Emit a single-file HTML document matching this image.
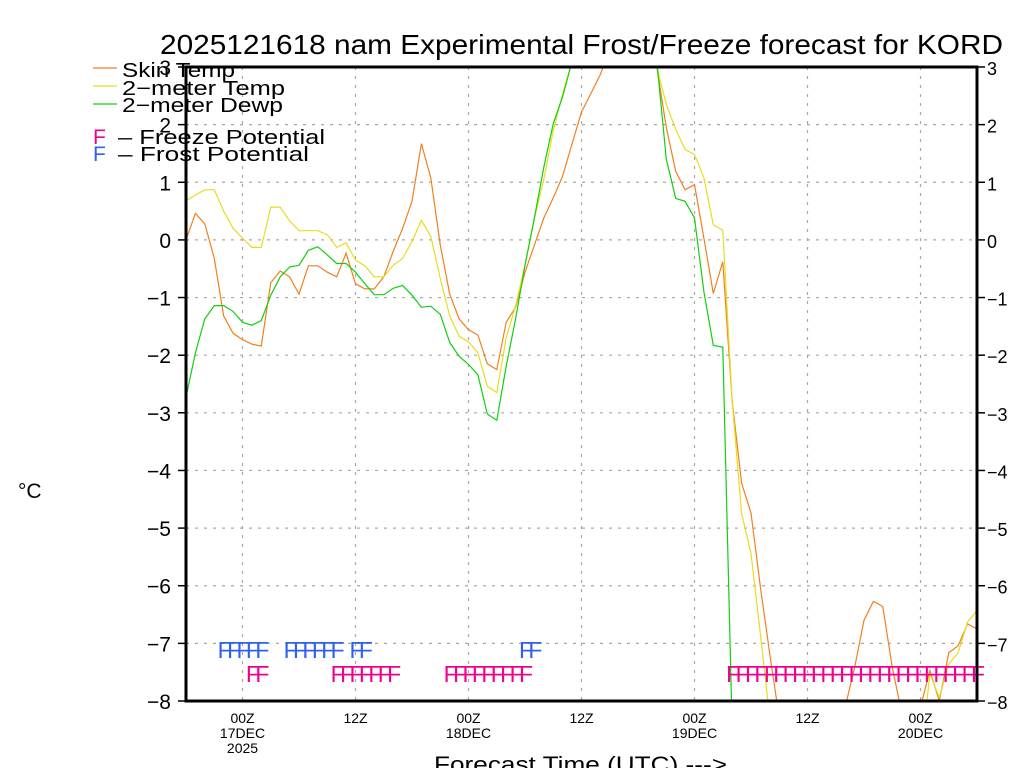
<!DOCTYPE html>
<html><head><meta charset="utf-8"><style>
html,body{margin:0;padding:0;background:#fff;width:1024px;height:768px;overflow:hidden}
svg{display:block;font-family:"Liberation Sans",sans-serif}
</style></head><body>
<svg id="chart" width="1024" height="768" viewBox="0 0 1024 768" xmlns="http://www.w3.org/2000/svg">
<text x="160" y="54" font-size="28" textLength="843" lengthAdjust="spacingAndGlyphs">2025121618 nam Experimental Frost/Freeze forecast for KORD</text>
<g id="grid"></g>
<defs><clipPath id="clip"><rect x="186" y="67" width="791" height="634"/></clipPath></defs>
<g id="series" clip-path="url(#clip)"></g>
<g id="marks"></g>
<rect x="186" y="67" width="791" height="634" fill="none" stroke="#000" stroke-width="3"/>
<g id="axes"></g>
<g>
<line x1="93" y1="68" x2="117" y2="68" stroke="#f08020" stroke-width="1.2"/>
<text x="122" y="77" font-size="20" textLength="113" lengthAdjust="spacingAndGlyphs">Skin Temp</text>
<line x1="93" y1="86" x2="117" y2="86" stroke="#e8dc20" stroke-width="1.2"/>
<text x="122" y="95" font-size="20" textLength="163" lengthAdjust="spacingAndGlyphs">2−meter Temp</text>
<line x1="93" y1="104" x2="117" y2="104" stroke="#10d010" stroke-width="1.2"/>
<text x="122" y="112" font-size="20" textLength="161" lengthAdjust="spacingAndGlyphs">2−meter Dewp</text>
<text x="93" y="144" font-size="21" fill="#f00090">F</text>
<text x="118" y="144" font-size="20" textLength="207" lengthAdjust="spacingAndGlyphs">–  Freeze Potential</text>
<text x="93" y="161" font-size="21" fill="#3060f0">F</text>
<text x="118" y="161" font-size="20" textLength="191" lengthAdjust="spacingAndGlyphs">–  Frost Potential</text>
</g>
<text x="18" y="498" font-size="21">°C</text>
<text x="434" y="772" font-size="22" textLength="293" lengthAdjust="spacingAndGlyphs">Forecast Time (UTC) ---&gt;</text>
</svg>
<script>
const hours = Array.from({length:85},(_,i)=>i);
const skinTemp = [0.0,0.46,0.28,-0.32,-1.32,-1.62,-1.73,-1.81,-1.84,-0.74,-0.54,-0.64,-0.94,-0.45,-0.45,-0.56,-0.64,-0.23,-0.76,-0.85,-0.85,-0.64,-0.2,0.2,0.67,1.67,1.08,-0.09,-0.94,-1.37,-1.56,-1.65,-2.15,-2.25,-1.43,-1.17,-0.56,-0.09,0.38,0.73,1.11,1.67,2.22,2.54,2.87,3.3,3.7,4.0,4.0,3.6,3.0,1.95,1.19,0.87,0.96,0.03,-0.93,-0.38,-2.8,-4.22,-4.74,-6.02,-7.19,-8.3,-9,-9,-9,-9,-9,-9,-8.1,-7.42,-6.6,-6.27,-6.36,-7.42,-8.2,-8.6,-8.1,-7.47,-8.0,-7.16,-7.04,-6.66,-6.75];
const temp2m = [0.68,0.78,0.87,0.87,0.5,0.2,0.03,-0.13,-0.13,0.57,0.57,0.33,0.16,0.16,0.16,0.09,-0.13,-0.05,-0.35,-0.45,-0.64,-0.64,-0.44,-0.32,-0.03,0.34,0.06,-0.67,-1.32,-1.67,-1.77,-1.96,-2.54,-2.65,-1.7,-1.14,-0.44,0.38,1.05,1.9,2.54,3.1,3.4,3.7,3.9,4.0,4.0,4.0,3.9,3.6,3.0,2.35,1.92,1.57,1.48,1.08,0.26,0.17,-2.8,-4.74,-5.44,-6.84,-8.3,-9,-9,-9,-9,-9,-9,-9,-9,-9,-9,-9,-9,-9,-9,-9,-9,-7.53,-7.94,-7.36,-7.16,-6.63,-6.43];
const dewp2m = [-2.73,-1.96,-1.37,-1.14,-1.14,-1.24,-1.43,-1.48,-1.4,-0.96,-0.64,-0.47,-0.44,-0.18,-0.12,-0.26,-0.41,-0.41,-0.56,-0.76,-0.95,-0.95,-0.84,-0.79,-0.96,-1.17,-1.15,-1.29,-1.78,-2.02,-2.16,-2.34,-3.02,-3.13,-2.19,-1.37,-0.44,0.38,1.26,2.02,2.49,3.1,3.4,3.7,3.9,4.0,4.0,4.0,3.9,3.6,3.1,1.4,0.72,0.67,0.38,-0.9,-1.83,-1.86,-8.5,-9,-9,-9,-9,-9,-9,-9,-9,-9,-9,-9,-9,-9,-9,-9,-9,-9,-9,-9,-9,-9,-9,-9,-9,-9,-9];
const frostHours = [4,5,6,7,8,11,12,13,14,15,16,18,19,36,37];
const freezeHours = [7,8,16,17,18,19,20,21,22,28,29,30,31,32,33,34,35,36,58,59,60,61,62,63,64,65,66,67,68,69,70,71,72,73,74,75,76,77,78,79,80,81,82,83,84];
const yTicks = [3,2,1,0,-1,-2,-3,-4,-5,-6,-7,-8];
const xTickHours = [6,18,30,42,54,66,78];
const xTickLabels = [["00Z","17DEC","2025"],["12Z"],["00Z","18DEC"],["12Z"],["00Z","19DEC"],["12Z"],["00Z","20DEC"]];

const NS="http://www.w3.org/2000/svg";
const X0=186,X1=977,Y0=67,Y1=701,HMAX=84,VMAX=3,VMIN=-8;
function xs(h){return X0+(X1-X0)*h/HMAX;}
function ys(v){return Y0+(Y1-Y0)*(VMAX-v)/(VMAX-VMIN);}
function mk(tag,attrs,parent,txt){const e=document.createElementNS(NS,tag);for(const k in attrs)e.setAttribute(k,attrs[k]);if(txt!==undefined)e.textContent=txt;parent.appendChild(e);return e;}
const grid=document.getElementById('grid'),axes=document.getElementById('axes'),series=document.getElementById('series'),marks=document.getElementById('marks');
yTicks.forEach(v=>{
  const y=ys(v);
  if(v<VMAX&&v>VMIN){const g=mk('line',{x1:X0,x2:X1,y1:y,y2:y,stroke:'#a8a8a8','stroke-width':1.2,'stroke-dasharray':'3,6'},grid);
  
  }
  const t1=mk('line',{x1:X0-8,x2:X0,y1:y,y2:y,stroke:'#000','stroke-width':1.5},axes);
  
  
  const t2=mk('line',{x1:X1,x2:X1+8,y1:y,y2:y,stroke:'#000','stroke-width':1.5},axes);
  
  
  const lab=(v<0?'−':'')+Math.abs(v);
  const l=mk('text',{x:171,y:y+8,'font-size':21,'text-anchor':'end'},axes,lab);
  
  
  const r=mk('text',{x:987,y:y+8,'font-size':18},axes,lab);
  
  
});
xTickHours.forEach((h,i)=>{
  const x=xs(h);
  const g=mk('line',{x1:x,x2:x,y1:Y0,y2:Y1,stroke:'#a8a8a8','stroke-width':1.2,'stroke-dasharray':'3,6'},grid);
  
  
  xTickLabels[i].forEach((s,j)=>{
    const t=mk('text',{x:x,y:723+j*15,'font-size':14,'text-anchor':'middle'},axes,s);
    
    
  });
});
function drawLine(vals,color,name){
  const pts=hours.map((h,i)=>xs(h).toFixed(1)+','+ys(vals[i]).toFixed(1)).join(' ');
  const p=mk('polyline',{points:pts,fill:'none',stroke:color,'stroke-width':1.2},series);
  
  
}
drawLine(skinTemp,'#f08020','skin-temp-line');
drawLine(temp2m,'#e8dc20','2m-temp-line');
drawLine(dewp2m,'#10d010','2m-dewp-line');
function drawF(hs,yBase,color,name){
  hs.forEach(h=>{
    const t=mk('text',{x:xs(h)-6,y:yBase,'font-size':23,fill:color},marks,'F');
    
    
  });
}
drawF(frostHours,658,'#3060f0','frost-marker');
drawF(freezeHours,682,'#f00090','freeze-marker');
</script>
</body></html>
